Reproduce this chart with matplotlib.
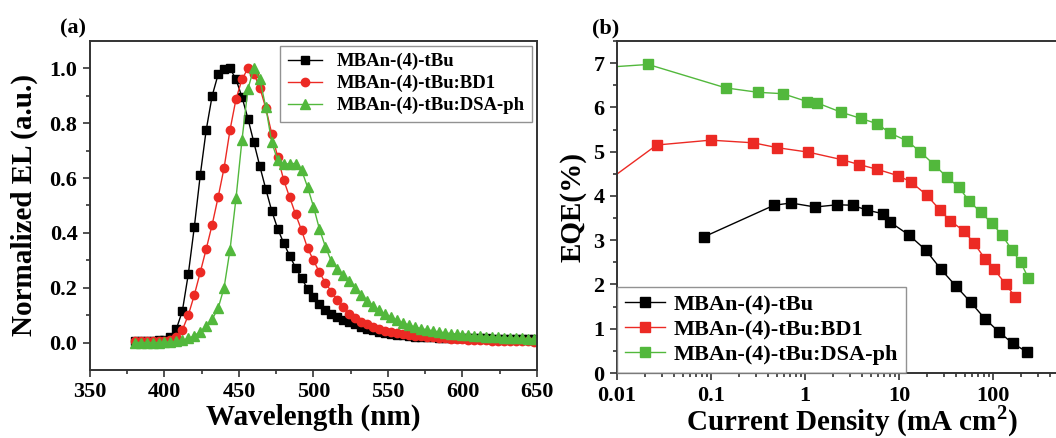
import matplotlib
matplotlib.use("Agg")
import matplotlib.pyplot as plt
from matplotlib.ticker import MultipleLocator, FixedLocator, LogLocator, NullFormatter

plt.rcParams['font.family'] = ['Liberation Serif', 'DejaVu Serif']
plt.rcParams['font.weight'] = 'bold'
plt.rcParams['mathtext.fontset'] = 'custom'
plt.rcParams['mathtext.rm'] = 'Liberation Serif:bold'
plt.rcParams['mathtext.bf'] = 'Liberation Serif:bold'

# (a) normalized EL spectra
wavelength = list(range(380, 652, 4))
el_tbu = [0.005, 0.005, 0.006, 0.006, 0.008, 0.010, 0.020, 0.050, 0.115, 0.250,
          0.420, 0.610, 0.775, 0.900, 0.978, 0.998, 1.000, 0.960, 0.896, 0.817,
          0.730, 0.643, 0.560, 0.480, 0.415, 0.363, 0.317, 0.273, 0.235, 0.196,
          0.166, 0.141, 0.120, 0.105, 0.092, 0.082, 0.074, 0.066, 0.058, 0.051,
          0.045, 0.040, 0.035, 0.031, 0.028, 0.026, 0.024, 0.022, 0.021, 0.020,
          0.019, 0.018, 0.018, 0.017, 0.017, 0.016, 0.016, 0.015, 0.015, 0.015,
          0.014, 0.014, 0.014, 0.013, 0.013, 0.013, 0.012, 0.012]
el_bd1 = [0.005, 0.005, 0.005, 0.006, 0.006, 0.007, 0.010, 0.020, 0.046, 0.100,
          0.173, 0.256, 0.341, 0.430, 0.530, 0.637, 0.776, 0.888, 0.960, 1.000,
          0.980, 0.930, 0.855, 0.762, 0.677, 0.593, 0.530, 0.468, 0.410, 0.345,
          0.300, 0.256, 0.218, 0.186, 0.155, 0.128, 0.105, 0.088, 0.075, 0.066,
          0.058, 0.050, 0.044, 0.039, 0.035, 0.031, 0.028, 0.025, 0.023, 0.021,
          0.019, 0.017, 0.016, 0.014, 0.013, 0.012, 0.011, 0.010, 0.009, 0.008,
          0.007, 0.007, 0.006, 0.005, 0.005, 0.004, 0.004, 0.003]
el_dsa = [0.000, 0.000, 0.000, 0.000, 0.000, 0.001, 0.002, 0.004, 0.008, 0.015,
          0.025, 0.040, 0.060, 0.085, 0.125, 0.200, 0.339, 0.526, 0.738, 0.925,
          1.000, 0.960, 0.859, 0.730, 0.665, 0.650, 0.653, 0.653, 0.629, 0.568,
          0.496, 0.414, 0.350, 0.296, 0.270, 0.245, 0.225, 0.200, 0.175, 0.153,
          0.135, 0.118, 0.105, 0.093, 0.082, 0.072, 0.064, 0.057, 0.051, 0.047,
          0.043, 0.039, 0.036, 0.033, 0.031, 0.029, 0.027, 0.025, 0.023, 0.022,
          0.021, 0.019, 0.018, 0.017, 0.016, 0.015, 0.014, 0.013]

# (b) EQE vs current density
j_tbu = [0.085, 0.468, 0.71, 1.28, 2.19, 3.21, 4.53, 6.7, 8.0, 12.7, 19.2, 28.0,
         40.4, 57.8, 81.5, 116.7, 162.0, 228.0]
eqe_tbu = [3.08, 3.79, 3.84, 3.75, 3.80, 3.79, 3.68, 3.60, 3.41, 3.12, 2.78, 2.34,
           1.96, 1.60, 1.23, 0.92, 0.67, 0.48]
j_bd1 = [0.006, 0.0264, 0.099, 0.282, 0.507, 1.08, 2.46, 3.75, 5.88, 9.7, 13.3,
         19.7, 27.3, 34.9, 49.0, 63.0, 82.0, 103.0, 137.0, 173.0]
eqe_bd1 = [4.15, 5.15, 5.26, 5.20, 5.09, 4.99, 4.82, 4.71, 4.60, 4.46, 4.32,
           4.02, 3.68, 3.44, 3.21, 2.93, 2.58, 2.34, 2.00, 1.71]
j_dsa = [0.005, 0.0215, 0.144, 0.319, 0.58, 1.06, 1.35, 2.43, 3.94, 5.88, 8.0,
         12.3, 16.7, 23.8, 32.1, 43.1, 56.0, 74.0, 97.7, 125.0, 159.0, 197.0, 238.0]
eqe_dsa = [6.88, 6.97, 6.44, 6.34, 6.31, 6.13, 6.10, 5.89, 5.75, 5.63, 5.42,
           5.24, 5.00, 4.70, 4.43, 4.20, 3.88, 3.63, 3.38, 3.11, 2.78, 2.50, 2.14]

labels = ['MBAn-(4)-tBu', 'MBAn-(4)-tBu:BD1', 'MBAn-(4)-tBu:DSA-ph']
colors = ['#000000', '#ec2a24', '#52b83c']

fig = plt.figure(figsize=(10.56, 4.38), dpi=100)
ax1 = fig.add_axes([0.0852, 0.1553, 0.4233, 0.7511])
ax2 = fig.add_axes([0.5843, 0.1484, 0.4451, 0.758])

ax1.plot(wavelength, el_tbu, '-s', color=colors[0], ms=5.5, lw=1.0, label=labels[0])
ax1.plot(wavelength, el_bd1, '-o', color=colors[1], ms=6, lw=1.0, label=labels[1])
ax1.plot(wavelength, el_dsa, '-^', color=colors[2], ms=6.5, lw=1.0, label=labels[2])
ax1.set_xlim(350, 650)
ax1.set_ylim(-0.1, 1.1)
ax1.xaxis.set_major_locator(MultipleLocator(50))
ax1.xaxis.set_minor_locator(MultipleLocator(25))
ax1.yaxis.set_major_locator(FixedLocator([0, 0.2, 0.4, 0.6, 0.8, 1.0]))
ax1.yaxis.set_minor_locator(FixedLocator([0.1, 0.3, 0.5, 0.7, 0.9]))
ax1.set_xlabel('Wavelength (nm)', fontsize=21, fontweight='bold', labelpad=0.5)
ax1.set_ylabel('Normalized EL (a.u.)', fontsize=21, fontweight='bold', labelpad=8)
leg1 = ax1.legend(loc='upper right', fontsize=13.5, frameon=True, fancybox=False,
                  handlelength=1.8, borderaxespad=0.25, borderpad=0.4, labelspacing=0.25)
leg1.get_frame().set_edgecolor('#777777')
leg1.get_frame().set_linewidth(1.0)
ax1.text(-0.067, 1.022, '(a)', transform=ax1.transAxes, fontsize=16, fontweight='bold')

ax2.plot(j_tbu, eqe_tbu, '-s', color=colors[0], ms=6.5, lw=1.0, label=labels[0])
ax2.plot(j_bd1, eqe_bd1, '-s', color=colors[1], ms=6.5, lw=1.0, label=labels[1])
ax2.plot(j_dsa, eqe_dsa, '-s', color=colors[2], ms=6.5, lw=1.0, label=labels[2])
ax2.set_xscale('log')
ax2.set_xlim(0.01, 1000)
ax2.set_ylim(0, 7.5)
ax2.xaxis.set_major_locator(FixedLocator([0.01, 0.1, 1, 10, 100]))
ax2.xaxis.set_minor_locator(LogLocator(base=10, subs=range(2, 10)))
ax2.xaxis.set_minor_formatter(NullFormatter())
ax2.set_xticklabels(['0.01', '0.1', '1', '10', '100'])
ax2.yaxis.set_major_locator(MultipleLocator(1))
ax2.yaxis.set_minor_locator(MultipleLocator(0.5))
ax2.set_xlabel(r'Current Density (mA cm$^\mathrm{2}$)', fontsize=21, fontweight='bold', labelpad=-1.5)
ax2.set_ylabel('EQE(%)', fontsize=21, fontweight='bold', labelpad=5)
leg2 = ax2.legend(loc='lower left', fontsize=16, frameon=True, fancybox=False,
                  handlelength=1.8, borderaxespad=0.0, borderpad=0.35, labelspacing=0.2,
                  handletextpad=0.4)
leg2.get_frame().set_edgecolor('#777777')
leg2.get_frame().set_linewidth(1.0)
ax2.text(-0.053, 1.022, '(b)', transform=ax2.transAxes, fontsize=16, fontweight='bold')

for ax in (ax1, ax2):
    for sp in ax.spines.values():
        sp.set_linewidth(1.4)
        sp.set_color('#333333')
    ax.tick_params(which='both', direction='out', top=False, right=False,
                   width=1.2, color='#333333')
    ax.tick_params(which='major', length=5, labelsize=16, pad=4)
    ax.tick_params(which='minor', length=3)
    for t in ax.get_xticklabels() + ax.get_yticklabels():
        t.set_fontweight('bold')

fig.savefig('out.png', dpi=100)
